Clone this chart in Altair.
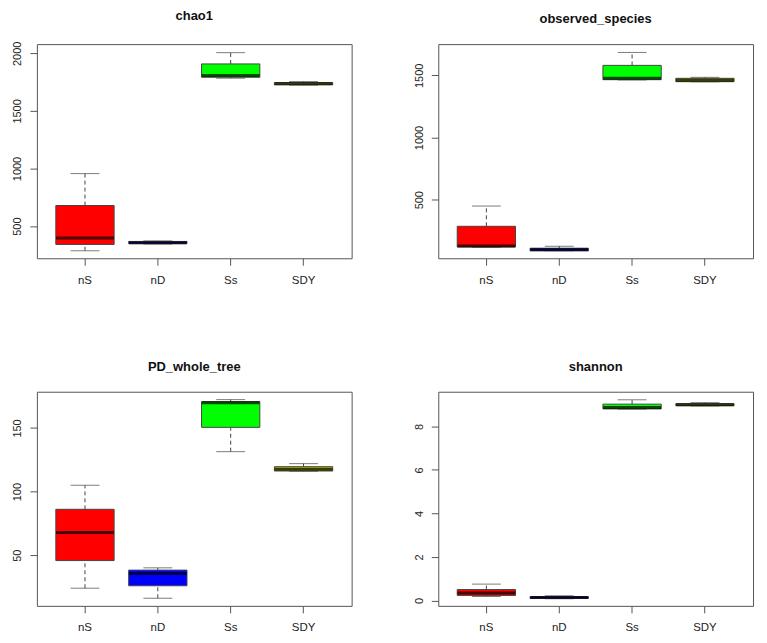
import altair as alt
import pandas as pd

groups = ["nS", "nD", "Ss", "SDY"]
colors = ["#FF0000", "#0000FF", "#00FF00", "#C8C800"]

metrics = ["chao1", "observed_species", "PD_whole_tree", "shannon"]

# five-number summaries per metric, in group order
chao1_min = [286, 345, 1784, 1724]
chao1_q1 = [341, 348, 1792, 1726]
chao1_med = [396, 356, 1807, 1737]
chao1_q3 = [679, 367, 1908, 1746]
chao1_max = [956, 372, 2006, 1755]

obs_min = [118, 90, 1463, 1448]
obs_q1 = [120, 88, 1465, 1449]
obs_med = [128, 99, 1476, 1460]
obs_q3 = [286, 110, 1580, 1476]
obs_max = [449, 126, 1684, 1484]

pd_min = [24.1, 16.2, 131.4, 116.0]
pd_q1 = [45.8, 26.0, 150.5, 116.2]
pd_med = [67.8, 35.6, 169.9, 117.5]
pd_q3 = [86.1, 38.3, 170.7, 119.6]
pd_max = [105.0, 40.1, 172.3, 122.0]

sh_min = [0.18, 0.08, 8.79, 8.94]
sh_q1 = [0.23, 0.09, 8.80, 8.95]
sh_med = [0.34, 0.14, 8.86, 8.99]
sh_q3 = [0.50, 0.18, 9.02, 9.04]
sh_max = [0.75, 0.21, 9.22, 9.09]

summaries = {
    "chao1": (chao1_min, chao1_q1, chao1_med, chao1_q3, chao1_max),
    "observed_species": (obs_min, obs_q1, obs_med, obs_q3, obs_max),
    "PD_whole_tree": (pd_min, pd_q1, pd_med, pd_q3, pd_max),
    "shannon": (sh_min, sh_q1, sh_med, sh_q3, sh_max),
}

domains = {
    "chao1": [221, 2080],
    "observed_species": [29, 1751],
    "PD_whole_tree": [10.2, 178.5],
    "shannon": [-0.25, 9.59],
}
ticks = {
    "chao1": [500, 1000, 1500, 2000],
    "observed_species": [500, 1000, 1500],
    "PD_whole_tree": [50, 100, 150],
    "shannon": [0, 2, 4, 6, 8],
}

FONT = "Liberation Sans"
LINE = "#444444"
W, H = 316, 215


def panel(metric):
    mn, q1, md, q3, mx = summaries[metric]
    df = pd.DataFrame({"group": groups, "min": mn, "q1": q1, "median": md, "q3": q3, "max": mx})
    yscale = alt.Scale(domain=domains[metric], nice=False, zero=False)
    yaxis = alt.Axis(
        title=None, values=ticks[metric], format="d", grid=False, domain=False,
        tickSize=7, tickColor="#555555", labelAngle=270, labelAlign="center",
        labelBaseline="alphabetic", labelPadding=9, labelFont=FONT, labelFontSize=11,
        labelColor="#222222",
    )
    xenc = alt.X(
        "group:N", sort=groups,
        scale=alt.Scale(domain=groups, paddingInner=0.2, paddingOuter=0.26),
        axis=alt.Axis(
            title=None, labelAngle=0, grid=False, domain=False, tickSize=7,
            tickColor="#555555", labelPadding=9, labelFont=FONT, labelFontSize=11.5,
            labelColor="#222222",
        ),
    )
    base = alt.Chart(df).encode(x=xenc)
    lo = base.mark_rule(color=LINE, strokeWidth=1, strokeDash=[4, 3]).encode(
        y=alt.Y("min:Q", scale=yscale, axis=yaxis), y2="q1:Q")
    hi = base.mark_rule(color=LINE, strokeWidth=1, strokeDash=[4, 3]).encode(
        y=alt.Y("q3:Q", title=None), y2="max:Q")
    cap_lo = base.mark_tick(color=LINE, size=29, thickness=1).encode(y=alt.Y("min:Q", title=None))
    cap_hi = base.mark_tick(color=LINE, size=29, thickness=1).encode(y=alt.Y("max:Q", title=None))
    box = base.mark_bar(stroke=LINE, strokeWidth=1, opacity=1).encode(
        y=alt.Y("q1:Q", title=None), y2="q3:Q",
        color=alt.Color("group:N", scale=alt.Scale(domain=groups, range=colors), legend=None),
    )
    med = base.mark_tick(color="black", size=58, thickness=3).encode(y=alt.Y("median:Q", title=None))
    return alt.layer(lo, hi, cap_lo, cap_hi, box, med).properties(
        width=W, height=H,
        title=alt.TitleParams(metric, font=FONT, fontSize=13, fontWeight="bold",
                              color="#111111", offset=8, baseline="alphabetic", anchor="middle"),
    )


row1 = alt.hconcat(panel(metrics[0]), panel(metrics[1]), spacing=60).resolve_scale(y="independent")
row2 = alt.hconcat(panel(metrics[2]), panel(metrics[3]), spacing=60).resolve_scale(y="independent")
chart = alt.vconcat(row1, row2, spacing=74).resolve_scale(y="independent", x="independent").configure_view(
    stroke="#555555", strokeWidth=1
).properties(padding={"left": 3, "top": 0, "right": 5, "bottom": 5}, background="white")

chart.save("out.html", embed_options={"renderer": "svg", "actions": False})
